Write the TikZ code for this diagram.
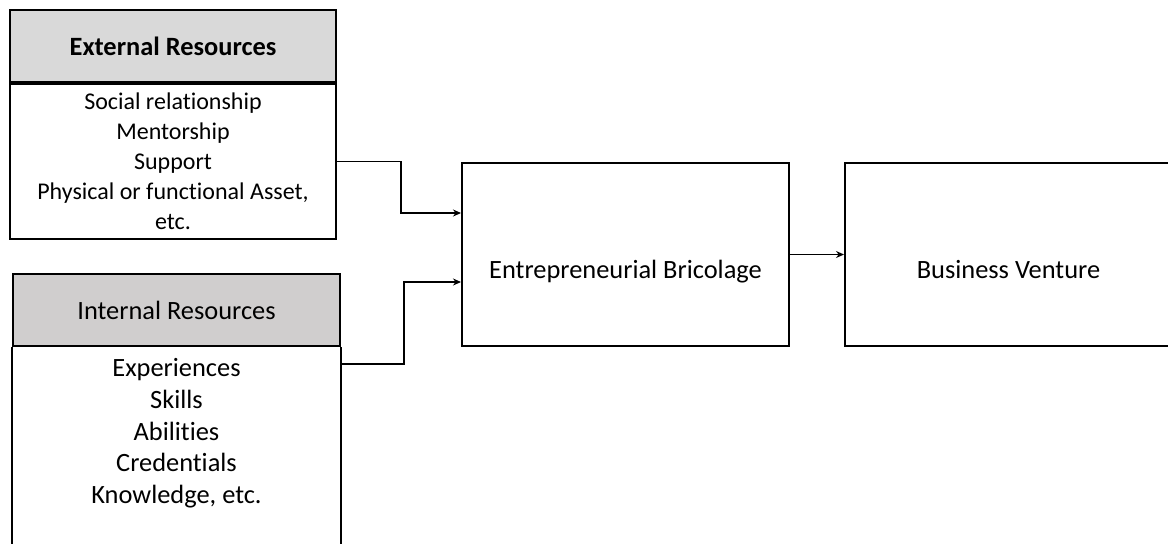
\documentclass[tikz,border=0pt]{standalone}
\usepackage{fontspec}
\setmainfont{Carlito}[Ligatures=NoCommon]
\usepackage{xcolor}
\usetikzlibrary{arrows.meta,positioning,calc}
\definecolor{extgray}{HTML}{D9D9D9}
\definecolor{intgray}{HTML}{D0CECE}

\begin{document}
\begin{tikzpicture}[
  x=0.5pt, y=-0.5pt,
  >={Stealth[length=4pt,width=3.5pt]},
  box/.style={draw, line width=1pt, inner sep=0pt, align=center},
  headbox/.style={box, minimum width=163pt, minimum height=36pt},
  bigbox/.style={box, minimum width=163.5pt, minimum height=91.5pt,
    text height=23.5pt, text depth=0pt,
    font=\fontsize{13.2}{16}\selectfont},
  arr/.style={->, line width=0.9pt},
]
\useasboundingbox (0,0) rectangle (1168,543);

% External resources
\node[headbox, fill=extgray, anchor=north west,
  font=\bfseries\fontsize{13.2}{16}\selectfont] (exthead) at (9,9) {External Resources};
\node[box, anchor=north west, minimum width=163pt, minimum height=77.5pt,
  font=\fontsize{12}{15}\selectfont] (extbody) at (exthead.south west)
  {Social relationship\\Mentorship\\Support\\Physical or functional Asset,\\etc.};

% Internal resources
\node[headbox, fill=intgray, anchor=north west, minimum width=163.5pt,
  font=\fontsize{13.2}{16}\selectfont] (inthead) at (12,273) {Internal Resources};
\node[anchor=north, inner sep=5.5pt, align=center,
  font=\fontsize{13.2}{15.9}\selectfont] (intbody) at (inthead.south)
  {Experiences\\Skills\\Abilities\\Credentials\\Knowledge, etc.};
\draw[line width=1pt] (inthead.south west) -- ++(0,220)
  (inthead.south east) -- ++(0,220);

% Bricolage and venture
\node[bigbox] (bric) at (625.5,254.5) {Entrepreneurial Bricolage};
\node[bigbox, right=27pt of bric] (venture) {Business Venture};

% Arrows
\draw[arr] (extbody.east) -- ++(64,0) |- ([yshift=20.75pt]bric.west);
\draw[arr] ([yshift=-8.5pt]inthead.south east) -- ++(63,0) |- ([yshift=-13.75pt]bric.west);
\draw[arr] (bric) -- (venture);
\end{tikzpicture}
\end{document}
